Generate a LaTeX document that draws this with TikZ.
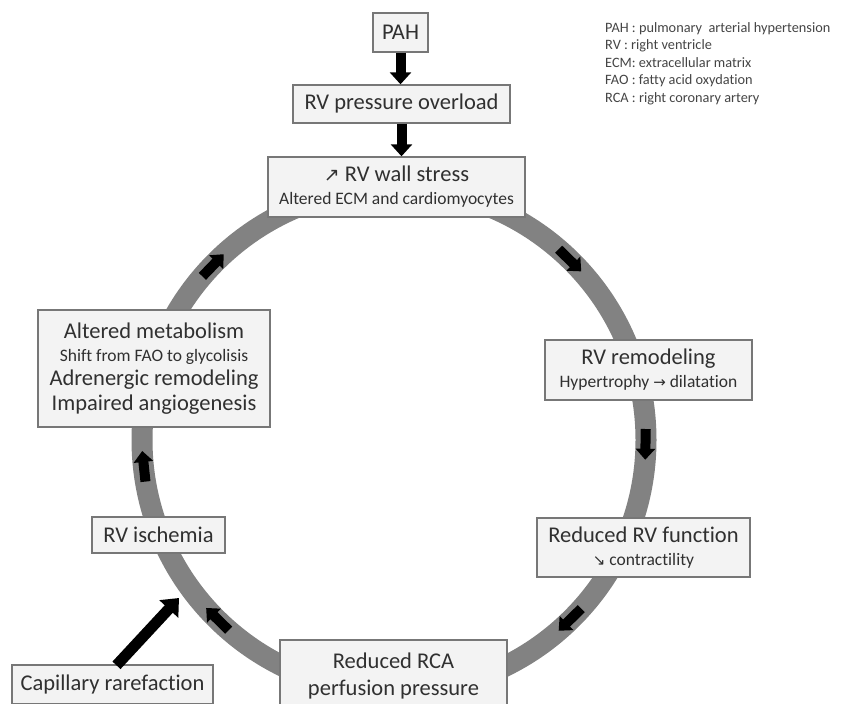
\documentclass[tikz,border=0pt]{standalone}
\usepackage{fontspec}
\setmainfont{Carlito}[Ligatures=NoCommon]
\newfontfamily\symfont{DejaVu Sans}
\usetikzlibrary{arrows.meta}
\definecolor{ringgray}{HTML}{828282}
\definecolor{boxfill}{HTML}{F3F3F3}
\definecolor{boxline}{HTML}{777777}
\definecolor{txt}{HTML}{303030}
\definecolor{legendtxt}{HTML}{454545}
\newcommand\mainsz{\fontsize{22.5pt}{26pt}\selectfont}
\newcommand\subsz{\fontsize{17.5pt}{21pt}\selectfont}
\newcommand\legsz{\fontsize{14.3pt}{17pt}\selectfont}
\tikzset{
  box/.style={draw=boxline, fill=boxfill, line width=1.4pt, text=txt, align=center, inner sep=0pt, font=\mainsz},
  blockarrow/.style={-{Triangle[length=12pt,width=21pt]}, line width=10pt, black},
  ringarrow/.style={-{Triangle[length=11pt,width=19pt]}, line width=10pt, black},
  caparrow/.style={-{Triangle[length=15pt,width=25pt]}, line width=11pt, black},
  legend/.style={anchor=base west, inner sep=0pt, text=legendtxt, font=\legsz},
  ring/.style={draw=ringgray, line width=21pt}
}
\begin{document}
\begin{tikzpicture}[x=1pt,y=-1pt]
\useasboundingbox (0,0) rectangle (841,704);
\clip (0,0) rectangle (841,704);
\fill[white] (0,0) rectangle (841,704);
% ring
\coordinate (ctr) at (394,440);
\draw[ring] (ctr) circle[radius=252pt];
% ring arrows (clockwise)
\begin{scope}[shift={(394,440)}, y=1pt]
  \draw[ringarrow] (49.2:252) -- (42:252);
  \draw[ringarrow] (2.5:252) -- (-4.5:252);
  \draw[ringarrow] (-42:252) -- (-49.2:252);
  \draw[ringarrow] (-131:252) -- (-138.2:252);
  \draw[ringarrow] (189.5:252) -- (182.5:252);
  \draw[ringarrow] (139.5:252) -- (132.5:252);
\end{scope}
% boxes
\node[box, minimum width=55pt, minimum height=39pt] (pah) at (400.5,32.5) {PAH};
\node[box, minimum width=217pt, minimum height=38pt] (over) at (401.5,104) {RV pressure overload};
\node[box, minimum width=257pt, minimum height=60pt] (wall) at (396.5,187) {{\symfont\fontsize{19pt}{22pt}\selectfont ↗} RV wall stress\\[-3pt]{\subsz Altered ECM and cardiomyocytes}};
\node[box, minimum width=207pt, minimum height=60pt] (remod) at (648.5,370) {RV remodeling\\[-3pt]{\subsz Hypertrophy {\symfont\fontsize{15pt}{18pt}\selectfont →} dilatation}};
\node[box, minimum width=213pt, minimum height=59pt] (func) at (643.5,547.5) {Reduced RV function\\[-3pt]{\subsz {\symfont\fontsize{15pt}{18pt}\selectfont ↘} contractility}};
\node[box, minimum width=227pt, minimum height=72pt] (rca) at (393.5,676) {Reduced RCA\\[1pt]perfusion pressure};
\node[box, minimum width=133pt, minimum height=36pt] (isch) at (158.5,535) {RV ischemia};
\node[box, minimum width=232pt, minimum height=117pt] (metab) at (154,368.5) {Altered metabolism\\[-3pt]{\subsz Shift from FAO to glycolisis}\\[-2pt]Adrenergic remodeling\\[-1pt]Impaired angiogenesis};
\node[box, minimum width=201pt, minimum height=39pt] (cap) at (112.5,684.5) {Capillary rarefaction};
% arrows
\draw[blockarrow] (pah.south) -- (pah.south |- over.north);
\draw[blockarrow] (over.south) -- (over.south |- wall.north);
\coordinate (capend) at (179,598);
\draw[caparrow] ([xshift=4pt,yshift=-1pt]cap.north) -- (capend);
% legend
\node[legend] (leg1) at (605,32) {PAH : pulmonary\ \ arterial hypertension};
\node[legend] (leg2) at (605,49.5) {RV : right ventricle};
\node[legend] (leg3) at (605,67) {ECM: extracellular matrix};
\node[legend] (leg4) at (605,84.5) {FAO : fatty acid oxydation};
\node[legend] (leg5) at (605,102) {RCA : right coronary artery};
\end{tikzpicture}
\end{document}
